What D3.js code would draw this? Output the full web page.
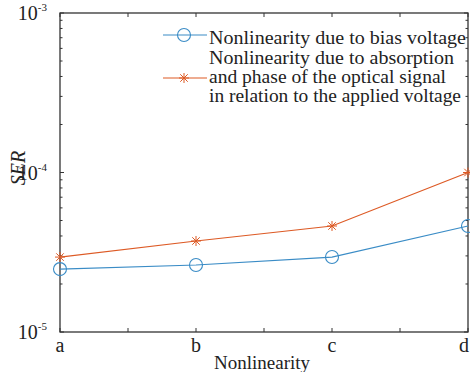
<!DOCTYPE html>
<html>
<head>
<meta charset="utf-8">
<script src="https://cdn.jsdelivr.net/npm/d3@7"></script>
<style>
  body { margin: 0; background: #fff; }
</style>
</head>
<body>
<div id="graf"></div>
<script>
// datos
const categorias = ['a', 'b', 'c', 'd']
const serieBias = [2.48e-5, 2.63e-5, 2.95e-5, 4.62e-5]
const serieAbs = [2.95e-5, 3.72e-5, 4.62e-5, 1.0e-4]
const yTicks = [-5, -4, -3]
const leyenda1 = ['Nonlinearity due to bias voltage']
const leyenda2 = [
  'Nonlinearity due to absorption',
  'and phase of the optical signal',
  'in relation to the applied voltage',
]
// ancho de cada renglon de la leyenda, medido en la imagen
const anchos1 = [257]
const anchos2 = [245, 237, 252]

const anchoTotal = 470
const altoTotal = 372
const margin = { top: 13, bottom: 40, left: 60, right: 2 }
const ancho = anchoTotal - margin.left - margin.right
const alto = altoTotal - margin.top - margin.bottom

const azul = '#3a8cc6'
const naranja = '#dd5a25'
const eje = '#333'
const fuente = "'Liberation Serif', 'Times New Roman', serif"

const svg = d3
  .select('#graf')
  .append('svg')
  .attr('width', anchoTotal)
  .attr('height', altoTotal)
  .attr('font-family', fuente)
  .attr('fill', '#222')

const g = svg
  .append('g')
  .attr('transform', `translate(${margin.left}, ${margin.top})`)

// escaladores
const x = d3.scaleLinear().domain([0, categorias.length - 1]).range([0, ancho])
const y = d3.scaleLog().domain([1e-5, 1e-3]).range([alto, 0])

// ticks menores en x (cada 0.5)
const xTicks = d3.range(0, categorias.length - 0.99, 0.5)
// ticks menores log
const yMinor = []
for (let e = -5; e < -3; e++) {
  for (let k = 2; k <= 9; k++) yMinor.push(k * Math.pow(10, e))
}

// caja
g.append('rect')
  .attr('width', ancho)
  .attr('height', alto)
  .attr('fill', 'none')
  .attr('stroke', eje)
  .attr('stroke-width', 1.3)

// ticks x (abajo y arriba, hacia adentro)
xTicks.forEach((t) => {
  g.append('line')
    .attr('x1', x(t)).attr('x2', x(t))
    .attr('y1', alto).attr('y2', alto - 4)
    .attr('stroke', eje)
  g.append('line')
    .attr('x1', x(t)).attr('x2', x(t))
    .attr('y1', 0).attr('y2', 4)
    .attr('stroke', eje)
})

// ticks y
yTicks.forEach((e) => {
  const v = Math.pow(10, e)
  g.append('line').attr('x1', 0).attr('x2', 4).attr('y1', y(v)).attr('y2', y(v)).attr('stroke', eje)
  g.append('line').attr('x1', ancho).attr('x2', ancho - 4).attr('y1', y(v)).attr('y2', y(v)).attr('stroke', eje)
})
yMinor.forEach((v) => {
  g.append('line').attr('x1', 0).attr('x2', 2.5).attr('y1', y(v)).attr('y2', y(v)).attr('stroke', eje)
  g.append('line').attr('x1', ancho).attr('x2', ancho - 2.5).attr('y1', y(v)).attr('y2', y(v)).attr('stroke', eje)
})

// etiquetas y
yTicks.forEach((e) => {
  const t = g.append('text')
    .attr('x', -13)
    .attr('y', y(Math.pow(10, e)) + 7)
    .attr('text-anchor', 'end')
    .style('font-size', '20px')
  t.append('tspan').text('10')
  t.append('tspan')
    .attr('dy', -9)
    .style('font-size', '11px')
    .text(`-${-e}`)
})

// etiquetas x
categorias.forEach((c, i) => {
  g.append('text')
    .attr('x', i === categorias.length - 1 ? x(i) - 4 : x(i))
    .attr('y', alto + 20)
    .attr('text-anchor', 'middle')
    .style('font-size', '20px')
    .text(c)
})

// titulos
g.append('text')
  .attr('x', ancho / 2 - 2)
  .attr('y', alto + 37)
  .attr('text-anchor', 'middle')
  .style('font-size', '19px')
  .text('Nonlinearity')

svg.append('text')
  .attr('transform', `translate(25, 168) rotate(-90)`)
  .attr('text-anchor', 'middle')
  .style('font-size', '20px')
  .style('font-style', 'italic')
  .text('SER')

// lineas
const linea = d3.line().x((d, i) => x(i)).y((d) => y(d))

g.append('path')
  .datum(serieBias)
  .attr('d', linea)
  .attr('fill', 'none')
  .attr('stroke', azul)
  .attr('stroke-width', 1.2)

g.append('path')
  .datum(serieAbs)
  .attr('d', linea)
  .attr('fill', 'none')
  .attr('stroke', naranja)
  .attr('stroke-width', 1.2)

function asterisco(sel, cx, cy, s, col) {
  const a = sel.append('g').attr('transform', `translate(${cx}, ${cy})`)
  a.append('line').attr('x1', -s).attr('x2', s).attr('stroke', col)
  a.append('line').attr('y1', -s).attr('y2', s).attr('stroke', col)
  const d = s * 0.75
  a.append('line').attr('x1', -d).attr('y1', -d).attr('x2', d).attr('y2', d).attr('stroke', col)
  a.append('line').attr('x1', -d).attr('y1', d).attr('x2', d).attr('y2', -d).attr('stroke', col)
}

g.selectAll('circle.bias')
  .data(serieBias)
  .enter()
  .append('circle')
  .attr('class', 'bias')
  .attr('cx', (d, i) => x(i))
  .attr('cy', (d) => y(d))
  .attr('r', 6.5)
  .attr('fill', 'none')
  .attr('stroke', azul)
  .attr('stroke-width', 1.1)

serieAbs.forEach((d, i) => asterisco(g, x(i), y(d), 5, naranja))

// leyenda
const ley = svg.append('g')
ley.append('line').attr('x1', 163).attr('x2', 207).attr('y1', 35).attr('y2', 35).attr('stroke', azul).attr('stroke-width', 1.2)
ley.append('circle').attr('cx', 184).attr('cy', 35).attr('r', 6.5).attr('fill', 'none').attr('stroke', azul).attr('stroke-width', 1.1)
ley.append('line').attr('x1', 163).attr('x2', 207).attr('y1', 78).attr('y2', 78).attr('stroke', naranja).attr('stroke-width', 1.2)
asterisco(ley, 184, 78, 5, naranja)

leyenda1.forEach((t, i) => {
  ley.append('text').attr('x', 209).attr('y', 44 + i * 19)
    .attr('textLength', anchos1[i]).attr('lengthAdjust', 'spacingAndGlyphs')
    .style('font-size', '19px').text(t)
})
leyenda2.forEach((t, i) => {
  ley.append('text').attr('x', 209).attr('y', 63.5 + i * 19.2)
    .attr('textLength', anchos2[i]).attr('lengthAdjust', 'spacingAndGlyphs')
    .style('font-size', '19px').text(t)
})
</script>
</body>
</html>
